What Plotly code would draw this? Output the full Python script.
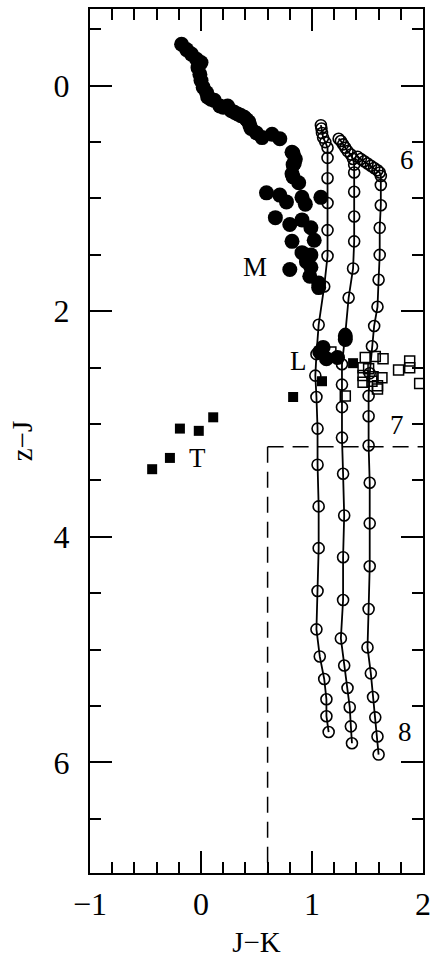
import plotly.graph_objects as go

# ---- data (J-K, z-J) ----
m_jk = [-0.175, -0.13, -0.086, -0.04, 0.0, -0.027, -0.01, 0.0, 0.02, 0.05, 0.06, 0.09, 0.12, 0.17, 0.20,
        0.24, 0.27, 0.30, 0.33, 0.36, 0.39, 0.41, 0.43, 0.44, 0.45, 0.50, 0.55, 0.64, 0.71, 0.82, 0.85, 0.83, 0.82,
        0.83, 0.84, 0.83, 0.88, 0.59, 0.71, 0.77, 0.91, 0.94, 1.08, 0.67, 0.80, 0.91, 0.99,
        1.02, 0.82, 0.91, 0.99, 0.95, 0.99, 0.80, 0.98, 1.06, 1.06]
m_zj = [-0.367, -0.32, -0.28, -0.235, -0.205, -0.16, -0.10, -0.045, 0.015, 0.06, 0.10, 0.12, 0.13, 0.18, 0.19,
        0.18, 0.22, 0.235, 0.25, 0.265, 0.28, 0.30, 0.32, 0.35, 0.38, 0.42, 0.46, 0.43, 0.47, 0.59, 0.65, 0.70, 0.78,
        0.60, 0.69, 0.81, 0.86, 0.95, 0.97, 1.03, 0.99, 1.05, 0.99, 1.17, 1.23, 1.19, 1.26,
        1.37, 1.38, 1.48, 1.50, 1.56, 1.61, 1.63, 1.69, 1.75, 1.79]

# filled circles among the L dwarfs
lc_jk = [1.30, 1.30, 1.10, 1.07, 1.13, 1.23]
lc_zj = [2.22, 2.25, 2.32, 2.36, 2.42, 2.41]

# filled squares (L and T dwarfs)
sq_jk = [1.37, 1.09, 0.83, 0.11, -0.19, -0.02, -0.28, -0.44]
sq_zj = [2.46, 2.62, 2.76, 2.94, 3.04, 3.06, 3.30, 3.40]

# open squares
osq_jk = [1.17, 1.48, 1.57, 1.64, 1.46, 1.51, 1.78, 1.88, 1.88, 1.97, 1.46, 1.55, 1.63,
          1.46, 1.54, 1.59, 1.59, 1.30]
osq_zj = [2.36, 2.41, 2.40, 2.42, 2.50, 2.51, 2.52, 2.44, 2.50, 2.64, 2.57, 2.58, 2.59,
          2.63, 2.62, 2.66, 2.69, 2.75]

# model tracks
trA_jk = [1.08, 1.085, 1.09, 1.10, 1.12, 1.14, 1.14, 1.14, 1.14, 1.14, 1.14, 1.11, 1.06, 1.04,
          1.03, 1.04, 1.05, 1.05, 1.06, 1.06, 1.05, 1.04, 1.07, 1.11, 1.13, 1.13, 1.15]
trA_zj = [0.35, 0.38, 0.42, 0.46, 0.50, 0.55, 0.64, 0.82, 1.04, 1.28, 1.51, 1.78, 2.12, 2.38,
          2.57, 2.76, 3.04, 3.36, 3.73, 4.10, 4.48, 4.82, 5.06, 5.26, 5.44, 5.59, 5.73]

trB_jk = [1.24, 1.26, 1.28, 1.30, 1.32, 1.35, 1.37, 1.38, 1.38, 1.38, 1.38, 1.38, 1.37, 1.33,
          1.30, 1.27, 1.27, 1.27, 1.27, 1.28, 1.29, 1.28, 1.28, 1.26, 1.29, 1.32, 1.34, 1.35, 1.36]
trB_zj = [0.47, 0.49, 0.52, 0.55, 0.58, 0.61, 0.65, 0.70, 0.77, 0.94, 1.16, 1.38, 1.62, 1.88,
          2.20, 2.47, 2.65, 2.85, 3.12, 3.44, 3.81, 4.18, 4.56, 4.90, 5.14, 5.34, 5.51, 5.68, 5.83]

trC_jk = [1.41, 1.44, 1.47, 1.50, 1.53, 1.56, 1.59, 1.61, 1.62, 1.62, 1.62, 1.61, 1.61, 1.60,
          1.59, 1.56, 1.54, 1.52, 1.51, 1.51, 1.51, 1.52, 1.52, 1.52, 1.51, 1.50, 1.53, 1.55, 1.57, 1.59, 1.60]
trC_zj = [0.63, 0.65, 0.67, 0.69, 0.71, 0.73, 0.75, 0.77, 0.80, 0.88, 1.06, 1.26, 1.50, 1.72,
          1.96, 2.13, 2.31, 2.55, 2.75, 2.93, 3.19, 3.52, 3.88, 4.26, 4.64, 4.98, 5.21, 5.42, 5.60, 5.77, 5.93]

# text labels
lab_text = ["M", "L", "T", "6", "7", "8"]
lab_jk = [0.49, 0.88, -0.03, 1.86, 1.77, 1.84]
lab_zj = [1.61, 2.44, 3.30, 0.66, 3.01, 5.73]

# selection cut
cut_jk = 0.6
cut_zj = 3.2

FONT = "Liberation Serif"

fig = go.Figure()

for xs, ys in [(trA_jk, trA_zj), (trB_jk, trB_zj), (trC_jk, trC_zj)]:
    fig.add_trace(go.Scatter(x=xs, y=ys, mode="lines+markers",
                             line=dict(color="black", width=1.8),
                             marker=dict(symbol="circle-open", size=11, color="black",
                                         line=dict(width=1.6, color="black"))))

fig.add_trace(go.Scatter(x=osq_jk, y=osq_zj, mode="markers",
                         marker=dict(symbol="square-open", size=10, color="black",
                                     line=dict(width=1.5, color="black"))))
fig.add_trace(go.Scatter(x=m_jk + lc_jk, y=m_zj + lc_zj, mode="markers",
                         marker=dict(symbol="circle", size=15, color="black", line=dict(width=0))))
fig.add_trace(go.Scatter(x=sq_jk, y=sq_zj, mode="markers",
                         marker=dict(symbol="square", size=10, color="black", line=dict(width=0))))

for t, x, y in zip(lab_text, lab_jk, lab_zj):
    fig.add_annotation(x=x, y=y, text=t, showarrow=False,
                       font=dict(family=FONT, size=27, color="black"))

fig.add_shape(type="line", x0=cut_jk, x1=cut_jk, y0=cut_zj, y1=7.0,
              line=dict(color="black", width=1.5, dash="16px,9px"))
fig.add_shape(type="line", x0=cut_jk, x1=2.0, y0=cut_zj, y1=cut_zj,
              line=dict(color="black", width=1.5, dash="16px,9px"))

axis_common = dict(showgrid=False, zeroline=False, showline=True, linecolor="black", linewidth=2,
                   mirror="allticks", ticks="inside", ticklen=22, tickwidth=1.5, tickcolor="black",
                   tickfont=dict(family=FONT, size=32, color="black"))

fig.update_xaxes(range=[-1, 2], tickvals=[-1, 0, 1, 2], ticktext=["\u22121", "0", "1", "2"],
                 ticklabelstandoff=2,
                 minor=dict(dtick=0.2, tick0=0, ticks="inside", ticklen=11, tickwidth=1.5,
                            tickcolor="black", showgrid=False),
                 title=dict(text="J\u2212K", font=dict(family=FONT, size=29, color="black"), standoff=10),
                 **axis_common)
fig.update_yaxes(range=[6.98, -0.68], tickvals=[0, 2, 4, 6], ticklabelstandoff=12,
                 minor=dict(dtick=0.5, tick0=0, ticks="inside", ticklen=11, tickwidth=1.5,
                            tickcolor="black", showgrid=False),
                 title=dict(text="z\u2212J", font=dict(family=FONT, size=29, color="black"), standoff=12),
                 **axis_common)

fig.update_layout(width=438, height=960, showlegend=False,
                  paper_bgcolor="white", plot_bgcolor="white",
                  margin=dict(l=90, r=8, t=7, b=83))

fig.write_html("out.html", config={"displayModeBar": False},
               post_script="document.body.style.margin='0';document.body.style.overflow='hidden';")
